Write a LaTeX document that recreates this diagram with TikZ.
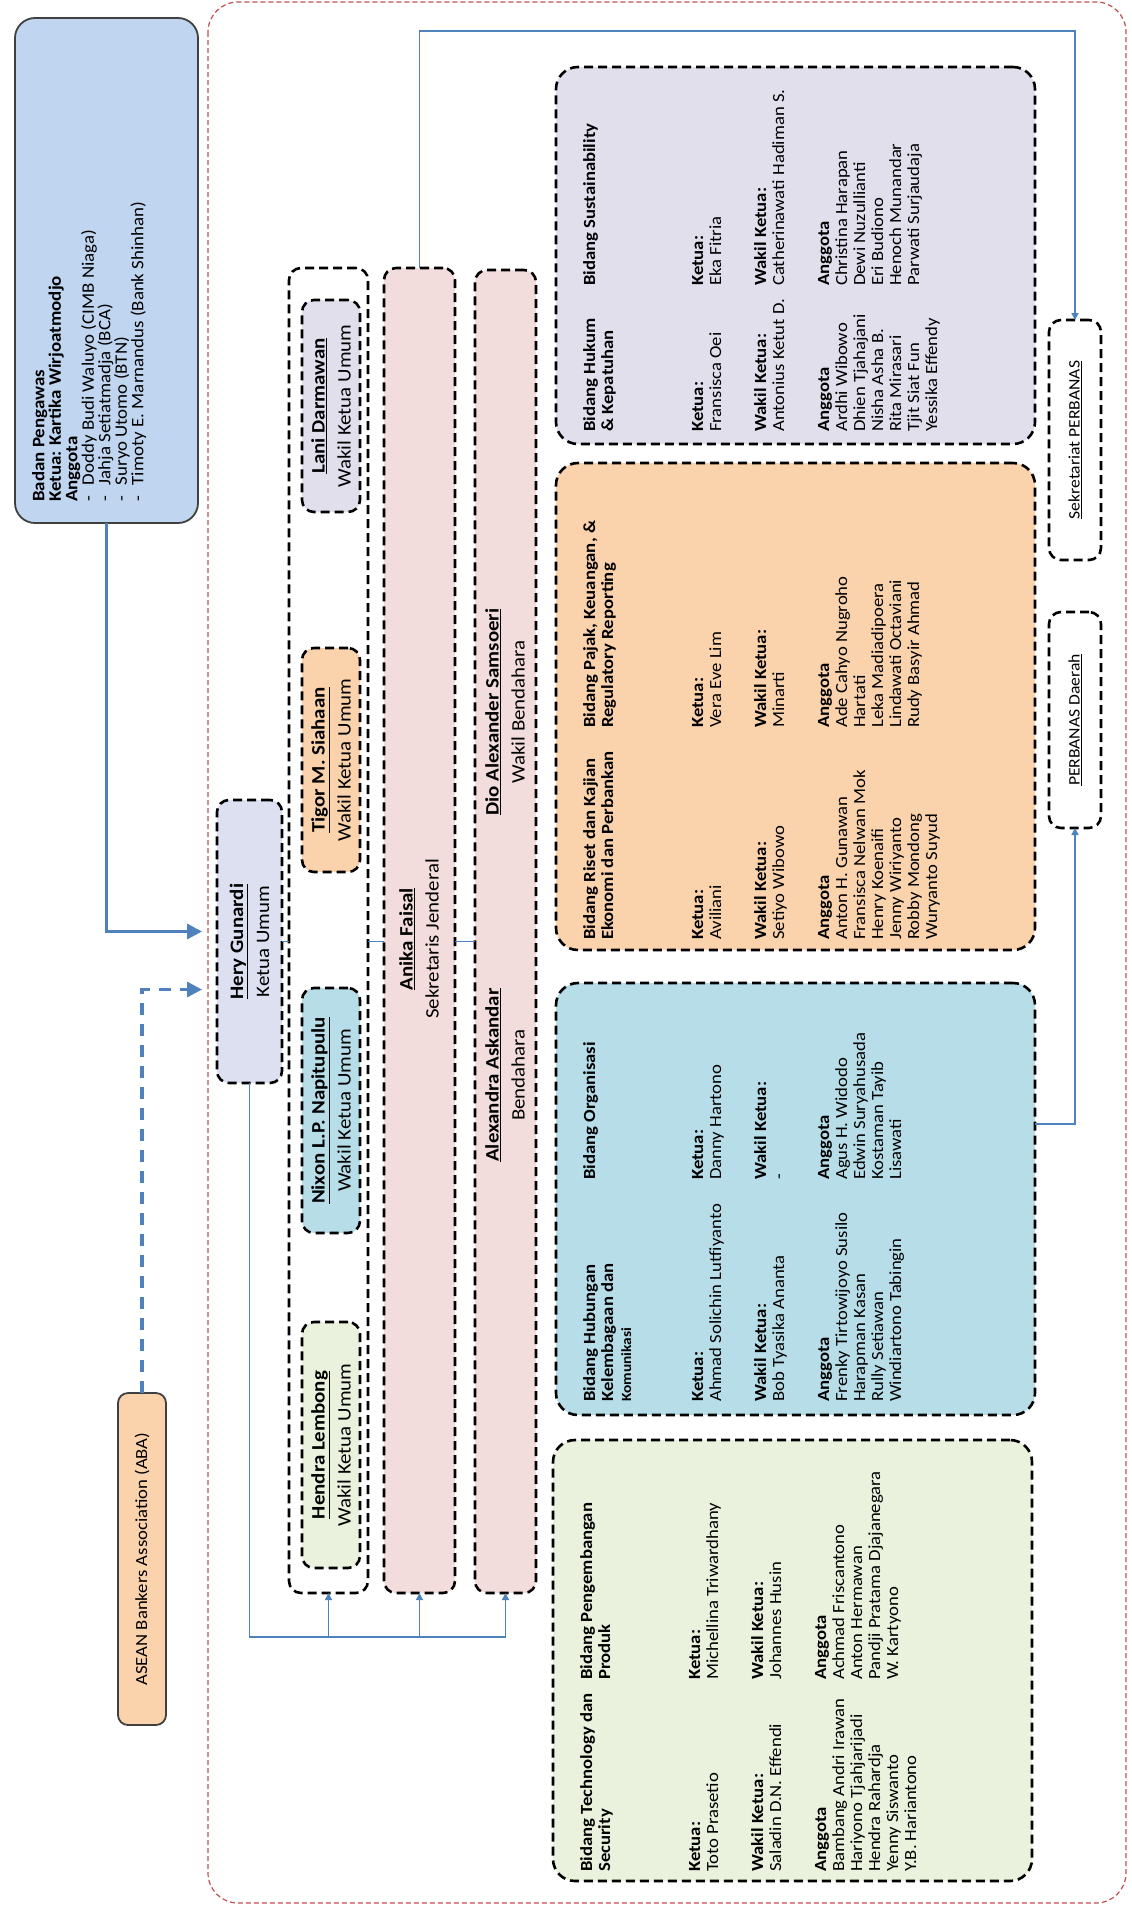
\documentclass[tikz,border=0pt]{standalone}
\usepackage{fontspec}
\setmainfont{Carlito}
\usetikzlibrary{arrows.meta,calc}

\definecolor{steel}{RGB}{192,213,239}
\definecolor{peach}{RGB}{250,210,172}
\definecolor{hgray}{RGB}{220,224,240}
\definecolor{lav}{RGB}{226,223,236}
\definecolor{aqua}{RGB}{183,221,232}
\definecolor{olive}{RGB}{234,241,221}
\definecolor{rose}{RGB}{242,220,220}
\definecolor{lineblue}{RGB}{79,129,189}
\definecolor{framered}{RGB}{192,80,77}

\newcommand\susunan[3]{\textbf{Ketua:}\\#1\\[27pt]\textbf{Wakil Ketua:}\\#2\\[27pt]\textbf{Anggota}\\#3}

\begin{document}
\begin{tikzpicture}[x=1pt,y=-1pt,
    dbox/.style={draw=black,line width=2.6pt,dash pattern=on 9pt off 5pt,rounded corners=12pt,
      anchor=north west,inner sep=0pt,outer sep=0pt},
    bbox/.style={dbox,rounded corners=22pt},
    sbox/.style={draw=black!75,line width=1.8pt,rounded corners=20pt,anchor=north west,inner sep=0pt,outer sep=0pt},
    ntxt/.style={rotate=90,xscale=1.1,align=center,inner sep=0pt,font=\fontsize{19}{26}\selectfont},
    btxt/.style={rotate=90,xscale=1.1,anchor=north west,align=left,inner sep=0pt,font=\fontsize{17}{18}\selectfont},
    link/.style={draw=lineblue,line width=1.6pt},
    bigtip/.style={-{Triangle[length=15pt,width=15pt]},line width=3.2pt,draw=lineblue,shorten >=15pt},
    smalltip/.style={link,-{Triangle[length=7pt,width=7pt]}}]
  \useasboundingbox (0,0) rectangle (1132,1909);

  % frame
  \draw[framered,line width=1.2pt,dash pattern=on 5pt off 3pt,rounded corners=30pt] (208,2) rectangle (1126,1903);

  % outside
  \node[sbox,fill=steel,minimum width=183pt,minimum height=505pt] (badan) at (15,18) {};
  \node[rotate=90,xscale=1.08,anchor=north west,align=left,inner sep=0pt,font=\fontsize{17.5}{16.5}\selectfont] (badan-t) at (32,502)
    {\textbf{Badan Pengawas}\\\textbf{Ketua: Kartika Wirjoatmodjo}\\\textbf{Anggota}\\
     -\hspace{10pt}Doddy Budi Waluyo (CIMB Niaga)\\-\hspace{10pt}Jahja Setiatmadja (BCA)\\
     -\hspace{10pt}Suryo Utomo (BTN)\\-\hspace{10pt}Timoty E. Marnandus (Bank Shinhan)};
  \node[sbox,fill=peach,rounded corners=10pt,minimum width=48pt,minimum height=332pt] (aba) at (118,1393) {};
  \node[ntxt,font=\fontsize{17}{20}\selectfont] (aba-t) at (aba.center) {ASEAN Bankers Association (ABA)};

  % pengurus
  \node[dbox,fill=hgray,minimum width=65pt,minimum height=283pt] (hery) at (217,800) {};
  \node[ntxt] (hery-t) at (hery.center) {\underline{\textbf{Hery Gunardi}}\\Ketua Umum};
  \node[dbox,minimum width=79pt,minimum height=1325pt] (wakil) at (289,268) {};
  \node[dbox,fill=lav,minimum width=58pt,minimum height=212pt] (lani) at (302,300) {};
  \node[ntxt] (lani-t) at (lani.center) {\underline{\textbf{Lani Darmawan}}\\Wakil Ketua Umum};
  \node[dbox,fill=peach,minimum width=58pt,minimum height=224pt] (tigor) at (302,648) {};
  \node[ntxt] (tigor-t) at (tigor.center) {\underline{\textbf{Tigor M. Siahaan}}\\Wakil Ketua Umum};
  \node[dbox,fill=aqua,minimum width=58pt,minimum height=245pt] (nixon) at (302,988) {};
  \node[ntxt] (nixon-t) at (nixon.center) {\underline{\textbf{Nixon L.P. Napitupulu}}\\Wakil Ketua Umum};
  \node[dbox,fill=olive,minimum width=58pt,minimum height=246pt] (hendra) at (302,1322) {};
  \node[ntxt] (hendra-t) at (hendra.center) {\underline{\textbf{Hendra Lembong}}\\Wakil Ketua Umum};
  \node[dbox,fill=rose,minimum width=71pt,minimum height=1325pt] (anika) at (384,268) {};
  \node[ntxt] (anika-t) at (419,939) {\underline{\textbf{Anika Faisal}}\\Sekretaris Jenderal};
  \node[dbox,fill=rose,minimum width=61pt,minimum height=1323pt] (bend) at (475,270) {};
  \node[ntxt] (dio-t) at (505,712) {\underline{\textbf{Dio Alexander Samsoeri}}\\Wakil Bendahara};
  \node[ntxt] (alex-t) at (505,1075) {\underline{\textbf{Alexandra Askandar}}\\Bendahara};

  % bidang
  \node[bbox,fill=lav,minimum width=479pt,minimum height=377pt] (hukum) at (556,67) {};
  \node[btxt] (hukum-j1) at (583,432) {\textbf{Bidang Hukum}\\\textbf{\& Kepatuhan}};
  \node[btxt] (hukum-s1) at (692,432) {\susunan{Fransisca Oei}{Antonius Ketut D.}
    {Ardhi Wibowo\\Dhien Tjahajani\\Nisha Asha B.\\Rita Mirasari\\Tjit Siat Fun\\Yessika Effendy}};
  \node[btxt] (hukum-j2) at (583,286) {\textbf{Bidang Sustainability}};
  \node[btxt] (hukum-s2) at (692,286) {\susunan{Eka Fitria}{Catherinawati Hadiman S.}
    {Christina Harapan\\Dewi Nuzullianti\\Eri Budiono\\Henoch Munandar\\Parwati Surjaudaja}};

  \node[bbox,fill=peach,minimum width=479pt,minimum height=487pt] (pajak) at (556,463) {};
  \node[btxt] (pajak-j1) at (583,940) {\textbf{Bidang Riset dan Kajian}\\\textbf{Ekonomi dan Perbankan}};
  \node[btxt] (pajak-s1) at (692,940) {\susunan{Aviliani}{Setiyo Wibowo}
    {Anton H. Gunawan\\Fransisca Nelwan Mok\\Henry Koenaifi\\Jenny Wiriyanto\\Robby Mondong\\Wuryanto Suyud}};
  \node[btxt] (pajak-j2) at (583,728) {\textbf{Bidang Pajak, Keuangan, \&}\\\textbf{Regulatory Reporting}};
  \node[btxt] (pajak-s2) at (692,728) {\susunan{Vera Eve Lim}{Minarti}
    {Ade Cahyo Nugroho\\Hartati\\Leka Madiadipoera\\Lindawati Octaviani\\Rudy Basyir Ahmad}};

  \node[bbox,fill=aqua,minimum width=479pt,minimum height=432pt] (org) at (556,983) {};
  \node[btxt] (org-j1) at (583,1402) {\textbf{Bidang Hubungan}\\\textbf{Kelembagaan dan}\\{\fontsize{14}{18}\selectfont\textbf{Komunikasi}}};
  \node[btxt] (org-s1) at (692,1402) {\susunan{Ahmad Solichin Lutfiyanto}{Bob Tyasika Ananta}
    {Frenky Tirtowijoyo Susilo\\Harapman Kasan\\Rully Setiawan\\Windiartono Tabingin}};
  \node[btxt] (org-j2) at (583,1180) {\textbf{Bidang Organisasi}};
  \node[btxt] (org-s2) at (692,1180) {\susunan{Danny Hartono}{-}
    {Agus H. Widodo\\Edwin Suryahusada\\Kostaman Tayib\\Lisawati}};

  \node[bbox,fill=olive,minimum width=479pt,minimum height=441pt] (tek) at (553,1440) {};
  \node[btxt] (tek-j1) at (580,1872) {\textbf{Bidang Technology dan}\\\textbf{Security}};
  \node[btxt] (tek-s1) at (689,1872) {\susunan{Toto Prasetio}{Saladin D.N. Effendi}
    {Bambang Andri Irawan\\Hariyono Tjahjarijadi\\Hendra Rahardja\\Yenny Siswanto\\Y.B. Hariantono}};
  \node[btxt] (tek-j2) at (580,1680) {\textbf{Bidang Pengembangan}\\\textbf{Produk}};
  \node[btxt] (tek-s2) at (689,1680) {\susunan{Michellina Triwardhany}{Johannes Husin}
    {Achmad Friscantono\\Anton Hermawan\\Pandji Pratama Djajanegara\\W. Kartyono}};

  % perbanas
  \node[dbox,fill=white,minimum width=52pt,minimum height=240pt] (sekr) at (1049,320) {};
  \node[ntxt,font=\fontsize{16}{20}\selectfont] (sekr-t) at (sekr.center) {\underline{Sekretariat PERBANAS}};
  \node[dbox,fill=white,minimum width=52pt,minimum height=216pt] (daerah) at (1049,612) {};
  \node[ntxt,font=\fontsize{16}{20}\selectfont] (daerah-t) at (daerah.center) {\underline{PERBANAS Daerah}};

  % connectors
  \draw[bigtip] (badan.south) |- ($(hery.west)+(0,-10)$);
  \draw[bigtip,dash pattern=on 12pt off 9pt] (aba.north) |- ($(hery.west)+(0,48)$);
  \coordinate (hub) at (hery.south |- 0,1637);
  \draw[link] (hery.south) -- (hub) -- (hub -| bend.south);
  \draw[smalltip] (hub -| wakil.south) -- (wakil.south);
  \draw[smalltip] (hub -| anika.south) -- (anika.south);
  \draw[smalltip] (hub -| bend.south) -- (bend.south);
  \draw[link] (hery.east) -- (hery.east -| wakil.west);
  \draw[link] (wakil.east |- hery.east) -- (anika.west |- hery.east);
  \draw[link] (anika.east |- hery.east) -- (bend.west |- hery.east);
  \draw[smalltip] (anika.north) -- ++(0,-237) -| (sekr.north);
  \draw[smalltip] (org.east |- 0,1124) -| (daerah.south);
\end{tikzpicture}
\end{document}
